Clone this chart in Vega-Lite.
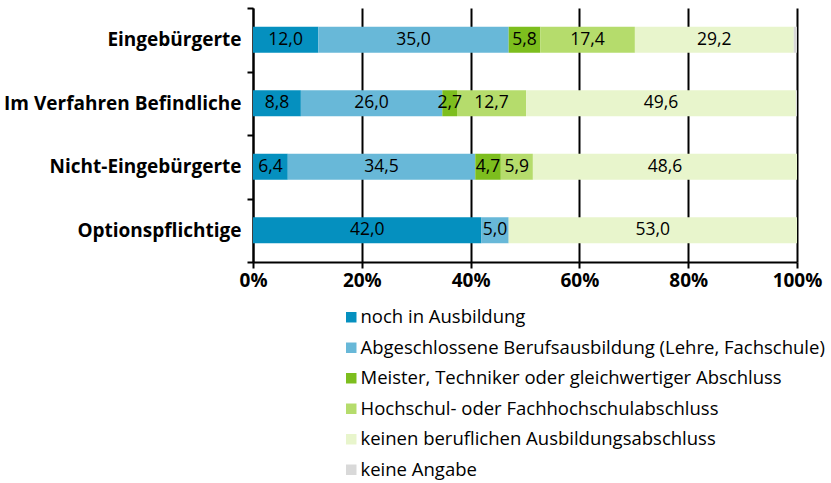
{
  "$schema": "https://vega.github.io/schema/vega-lite/v6.json",
  "width": 544,
  "height": 254,
  "autosize": "none",
  "padding": {"left": 253, "top": 8, "right": 34, "bottom": 221},
  "background": "white",
  "config": {
    "locale": {"number": {"decimal": ",", "thousands": ".", "grouping": [3], "currency": ["", " €"]}},
    "view": {"stroke": null},
    "font": "Open Sans"
  },
  "data": {
    "values": [
      {"gruppe": "Eingebürgerte", "kategorie": "noch in Ausbildung", "wert": 12.0},
      {"gruppe": "Eingebürgerte", "kategorie": "Abgeschlossene Berufsausbildung (Lehre, Fachschule)", "wert": 35.0},
      {"gruppe": "Eingebürgerte", "kategorie": "Meister, Techniker oder gleichwertiger Abschluss", "wert": 5.8},
      {"gruppe": "Eingebürgerte", "kategorie": "Hochschul- oder Fachhochschulabschluss", "wert": 17.4},
      {"gruppe": "Eingebürgerte", "kategorie": "keinen beruflichen Ausbildungsabschluss", "wert": 29.2},
      {"gruppe": "Eingebürgerte", "kategorie": "keine Angabe", "wert": 0.6},
      {"gruppe": "Im Verfahren Befindliche", "kategorie": "noch in Ausbildung", "wert": 8.8},
      {"gruppe": "Im Verfahren Befindliche", "kategorie": "Abgeschlossene Berufsausbildung (Lehre, Fachschule)", "wert": 26.0},
      {"gruppe": "Im Verfahren Befindliche", "kategorie": "Meister, Techniker oder gleichwertiger Abschluss", "wert": 2.7},
      {"gruppe": "Im Verfahren Befindliche", "kategorie": "Hochschul- oder Fachhochschulabschluss", "wert": 12.7},
      {"gruppe": "Im Verfahren Befindliche", "kategorie": "keinen beruflichen Ausbildungsabschluss", "wert": 49.6},
      {"gruppe": "Im Verfahren Befindliche", "kategorie": "keine Angabe", "wert": 0.2},
      {"gruppe": "Nicht-Eingebürgerte", "kategorie": "noch in Ausbildung", "wert": 6.4},
      {"gruppe": "Nicht-Eingebürgerte", "kategorie": "Abgeschlossene Berufsausbildung (Lehre, Fachschule)", "wert": 34.5},
      {"gruppe": "Nicht-Eingebürgerte", "kategorie": "Meister, Techniker oder gleichwertiger Abschluss", "wert": 4.7},
      {"gruppe": "Nicht-Eingebürgerte", "kategorie": "Hochschul- oder Fachhochschulabschluss", "wert": 5.9},
      {"gruppe": "Nicht-Eingebürgerte", "kategorie": "keinen beruflichen Ausbildungsabschluss", "wert": 48.6},
      {"gruppe": "Optionspflichtige", "kategorie": "noch in Ausbildung", "wert": 42.0},
      {"gruppe": "Optionspflichtige", "kategorie": "Abgeschlossene Berufsausbildung (Lehre, Fachschule)", "wert": 5.0},
      {"gruppe": "Optionspflichtige", "kategorie": "keinen beruflichen Ausbildungsabschluss", "wert": 53.0}
    ]
  },
  "transform": [
    {"calculate": "indexof(['noch in Ausbildung','Abgeschlossene Berufsausbildung (Lehre, Fachschule)','Meister, Techniker oder gleichwertiger Abschluss','Hochschul- oder Fachhochschulabschluss','keinen beruflichen Ausbildungsabschluss','keine Angabe'], datum.kategorie)", "as": "ord"},
    {"stack": "wert", "groupby": ["gruppe"], "sort": [{"field": "ord", "order": "ascending"}], "as": ["v0", "v1"], "offset": "normalize"},
    {"calculate": "(datum.v0 + datum.v1) / 2", "as": "mitte"}
  ],
  "encoding": {
    "y": {
      "field": "gruppe",
      "type": "nominal",
      "sort": ["Eingebürgerte", "Im Verfahren Befindliche", "Nicht-Eingebürgerte", "Optionspflichtige"],
      "scale": {"paddingInner": 0, "paddingOuter": 0},
      "axis": {
        "title": null,
        "domainColor": "black",
        "domainWidth": 2,
        "tickBand": "extent",
        "tickColor": "black",
        "tickWidth": 2,
        "tickSize": 6,
        "labelFont": "Open Sans",
        "labelFontWeight": "bold",
        "labelFontSize": 19,
        "labelColor": "black",
        "labelPadding": 6,
        "labelLimit": 0
      }
    }
  },
  "layer": [
    {
      "mark": {"type": "bar", "size": 26},
      "encoding": {
        "x": {
          "field": "v0",
          "type": "quantitative",
          "scale": {"domain": [0, 1], "nice": false},
          "axis": {
            "title": null,
            "values": [0, 0.2, 0.4, 0.6, 0.8, 1],
            "format": ".0%",
            "grid": true,
            "gridColor": "black",
            "gridWidth": 2,
            "gridOpacity": 1,
            "domainColor": "black",
            "domainWidth": 2,
            "tickColor": "black",
            "tickWidth": 2,
            "tickSize": 6,
            "labelFlush": false,
            "labelOverlap": false,
            "labelFont": "Open Sans",
            "labelFontWeight": "bold",
            "labelFontSize": 19,
            "labelColor": "black",
            "labelPadding": 3
          }
        },
        "x2": {"field": "v1"},
        "color": {
          "field": "kategorie",
          "type": "nominal",
          "scale": {
            "domain": ["noch in Ausbildung", "Abgeschlossene Berufsausbildung (Lehre, Fachschule)", "Meister, Techniker oder gleichwertiger Abschluss", "Hochschul- oder Fachhochschulabschluss", "keinen beruflichen Ausbildungsabschluss", "keine Angabe"],
            "range": ["#0590BF", "#68B8D8", "#7DBE1E", "#B5DC6C", "#E8F5CC", "#D9D9D9"]
          },
          "legend": {
            "title": null,
            "orient": "none",
            "legendX": 89,
            "legendY": 300,
            "direction": "vertical",
            "symbolType": "square",
            "symbolSize": 110,
            "symbolStrokeWidth": 0,
            "symbolOpacity": 1,
            "labelFont": "Open Sans",
            "labelFontSize": 18.5,
            "labelColor": "black",
            "labelOffset": 0,
            "labelLimit": 0,
            "rowPadding": 11.5
          }
        }
      }
    },
    {
      "transform": [{"filter": "datum.kategorie != 'keine Angabe'"}],
      "mark": {"type": "text", "font": "Open Sans", "fontSize": 17.5, "color": "black"},
      "encoding": {
        "x": {"field": "mitte", "type": "quantitative"},
        "text": {"field": "wert", "type": "quantitative", "format": ".1f"}
      }
    }
  ]
}
